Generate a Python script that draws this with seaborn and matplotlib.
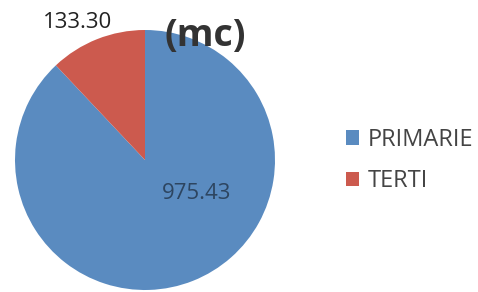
import matplotlib
matplotlib.use("Agg")
import matplotlib.pyplot as plt
import seaborn as sns
from matplotlib.patches import Patch

# data
categories = ["PRIMARIE", "TERTI"]
values = [975.43, 133.30]
value_labels = ["975.43", "133.30"]

sns.set_theme(style="white")
plt.rcParams["font.family"] = ["Open Sans", "DejaVu Sans"]
colors = ["#5A8BC0", "#CC5A4E"]

fig = plt.figure(figsize=(4.78, 2.92), dpi=100)
# pie centre ~ (145, 160) px, radius ~130 px
ax = fig.add_axes([15 / 478, 2 / 292, 260 / 478, 260 / 292])

ax.pie(values, colors=colors, startangle=90, counterclock=False,
       radius=1.0, wedgeprops=dict(linewidth=0))
ax.set_xlim(-1, 1)
ax.set_ylim(-1, 1)
ax.set_aspect("equal")

# data labels
ax.text(0.40, -0.26, value_labels[0], ha="center", va="center",
        fontsize=16, color="#2d4560")
ax.text(-0.52, 1.06, value_labels[1], ha="center", va="center",
        fontsize=16, color="#222222", clip_on=False)

fig.text(0.43, 0.875, "(mc)", ha="center", va="center",
         fontsize=27, fontweight="bold", color="#333333")

handles = [Patch(facecolor=c, edgecolor="none") for c in colors]
fig.legend(handles, categories, loc="center left",
           bbox_to_anchor=(0.68, 0.45), frameon=False, fontsize=17,
           handlelength=0.55, handleheight=0.55, handletextpad=0.35,
           labelspacing=0.75, labelcolor="#444444")

fig.savefig("out.png", dpi=100)
